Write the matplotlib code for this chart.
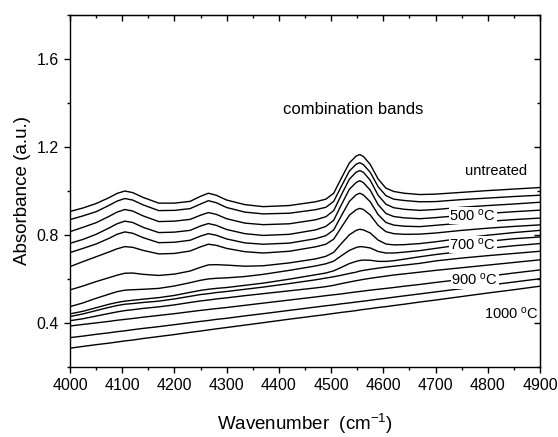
import matplotlib
matplotlib.use("Agg")
import matplotlib.pyplot as plt
from matplotlib.ticker import MultipleLocator

plt.rcParams['font.family'] = ['Liberation Sans', 'DejaVu Sans']
plt.rcParams['mathtext.fontset'] = 'custom'
plt.rcParams['mathtext.rm'] = 'Liberation Sans'
plt.rcParams['mathtext.it'] = 'Liberation Sans'

wavenumber = [4000, 4025, 4050, 4075, 4090, 4105, 4120, 4140, 4170,
              4200, 4230, 4250, 4265, 4280, 4300, 4335, 4370, 4420, 4470,
              4490, 4505, 4520, 4535, 4548, 4555, 4562, 4575, 4590, 4605, 4620, 4640, 4670,
              4700, 4750, 4800, 4850, 4900]

c01 = [.906, .922, .942, .969, .988, .999, .992, .970, .944,
       .944, .952, .975, .989, .980, .958, .937, .928, .933, .950,
       .962, .989, 1.059, 1.127, 1.158, 1.165, 1.156, 1.120, 1.054, 1.012, .997, .989, .983,
       .985, .993, 1.001, 1.008, 1.015]
c02 = [.869, .886, .905, .934, .953, .965, .958, .936, .910,
       .911, .919, .940, .955, .946, .924, .903, .895, .898, .914,
       .925, .952, 1.022, 1.090, 1.121, 1.128, 1.119, 1.084, 1.019, .978, .962, .956, .950,
       .951, .960, .967, .974, .980]
c03 = [.814, .834, .855, .884, .903, .915, .908, .886, .860,
       .862, .870, .889, .901, .893, .873, .853, .846, .850, .868,
       .882, .910, .983, 1.053, 1.085, 1.092, 1.084, 1.048, .980, .939, .923, .916, .911,
       .915, .925, .933, .940, .948]
c04 = [.761, .779, .802, .831, .850, .862, .856, .834, .810,
       .812, .820, .840, .851, .843, .824, .805, .797, .802, .822,
       .838, .866, .938, 1.007, 1.038, 1.046, 1.037, 1.003, .937, .897, .883, .877, .873,
       .878, .888, .897, .905, .912]
c05 = [.719, .738, .758, .784, .802, .813, .807, .787, .764,
       .766, .775, .794, .805, .798, .781, .763, .757, .762, .782,
       .796, .822, .888, .952, .982, .989, .981, .950, .892, .856, .844, .839, .837,
       .843, .853, .861, .869, .876]
c06 = [.655, .678, .700, .722, .736, .746, .743, .729, .713,
       .715, .726, .745, .757, .752, .738, .723, .717, .725, .745,
       .757, .780, .835, .889, .914, .920, .915, .890, .843, .814, .805, .802, .803,
       .808, .820, .830, .838, .845]
c07 = [.549, .567, .587, .605, .616, .625, .626, .620, .615,
       .621, .635, .652, .663, .664, .662, .657, .659, .672, .690,
       .702, .720, .761, .800, .820, .825, .822, .808, .776, .758, .754, .755, .760,
       .768, .784, .798, .810, .820]
c08 = [.473, .490, .511, .530, .541, .548, .550, .552, .556,
       .567, .582, .593, .599, .602, .604, .610, .620, .638, .658,
       .668, .680, .705, .729, .742, .746, .745, .740, .724, .717, .717, .721, .728,
       .738, .755, .770, .782, .790]
c09 = [.440, .452, .468, .484, .492, .498, .502, .507, .514,
       .524, .538, .547, .552, .556, .560, .570, .580, .598, .618,
       .626, .636, .652, .669, .679, .683, .685, .684, .679, .679, .682, .689, .700,
       .710, .724, .738, .750, .760]
c10 = [.428, .440, .455, .470, .478, .484, .487, .492, .498,
       .508, .520, .528, .532, .537, .542, .552, .562, .578, .595,
       .603, .609, .616, .624, .630, .635, .638, .643, .648, .653, .657, .662, .670,
       .681, .694, .705, .715, .725]
c11 = [.409, .418, .430, .442, .449, .455, .459, .465, .472,
       .481, .492, .499, .503, .508, .513, .523, .532, .545, .558,
       .564, .570, .578, .585, .591, .594, .597, .602, .607, .612, .617, .622, .630,
       .638, .650, .662, .674, .686]
c12 = [.385, .392, .399, .406, .411, .415, .419, .425, .433,
       .441, .450, .456, .460, .464, .469, .479, .489, .503, .517,
       .523, .527, .531, .536, .540, .542, .544, .548, .552, .556, .560, .566, .574,
       .583, .597, .611, .626, .640]
c13 = [.332, .339, .347, .354, .359, .363, .368, .374, .382,
       .391, .400, .406, .410, .415, .420, .431, .441, .456, .471,
       .477, .481, .486, .490, .494, .496, .498, .502, .507, .511, .516, .522, .531,
       .540, .555, .570, .585, .600]
c14 = [.284, .292, .300, .307, .312, .317, .321, .328, .337,
       .346, .356, .362, .367, .372, .378, .389, .400, .416, .431,
       .437, .442, .447, .451, .455, .458, .460, .464, .469, .473, .478, .484, .494,
       .503, .519, .535, .550, .566]

spectra = [c01, c02, c03, c04, c05, c06, c07, c08, c09, c10, c11, c12, c13, c14]

label_texts = ['untreated', '500 $^{\\mathrm{o}}$C', '700 $^{\\mathrm{o}}$C', '900 $^{\\mathrm{o}}$C', '1000 $^{\\mathrm{o}}$C']
label_x = [4816, 4771, 4771, 4775, 4846]
label_y = [1.092, 0.888, 0.755, 0.595, 0.442]

fig = plt.figure(figsize=(5.58, 4.37), dpi=100)
ax = fig.add_axes([0.1254, 0.161, 0.8423, 0.8047])

for s in spectra:
    ax.plot(wavenumber, s, color='black', lw=1.0, zorder=2, solid_joinstyle='round')

for t, x, y in zip(label_texts, label_x, label_y):
    boxed = t not in ('untreated',) and not t.startswith('1000')
    bb = dict(facecolor='white', edgecolor='none', pad=0.5) if boxed else None
    ax.text(x, y, t, ha='center', va='center', fontsize=10.5, bbox=bb, zorder=3)

ax.text(4543, 1.371, 'combination bands', ha='center', va='center', fontsize=12)

ax.set_xlim(4000, 4900)
ax.set_ylim(0.2, 1.8)
ax.xaxis.set_major_locator(MultipleLocator(100))
ax.xaxis.set_minor_locator(MultipleLocator(50))
ax.yaxis.set_minor_locator(MultipleLocator(0.2))
ax.set_yticks([0.4, 0.8, 1.2, 1.6])
ax.tick_params(which='both', direction='out', labelsize=11.5, width=1.0)
ax.tick_params(which='major', length=4.5)
ax.tick_params(which='minor', length=2.5)

secx = ax.secondary_xaxis('top')
secx.xaxis.set_major_locator(MultipleLocator(100))
secx.xaxis.set_minor_locator(MultipleLocator(50))
secx.tick_params(which='both', direction='in', labeltop=False, width=1.0)
secx.tick_params(which='major', length=4)
secx.tick_params(which='minor', length=2.5)
secy = ax.secondary_yaxis('right')
secy.yaxis.set_minor_locator(MultipleLocator(0.2))
secy.set_yticks([0.4, 0.8, 1.2, 1.6])
secy.tick_params(which='both', direction='in', labelright=False, width=1.0)
secy.tick_params(which='major', length=4)
secy.tick_params(which='minor', length=2.5)

for sp in ax.spines.values():
    sp.set_linewidth(1.0)

ax.set_xlabel('Wavenumber  (cm$^{-1}$)', fontsize=13.5, labelpad=14)
ax.set_ylabel('Absorbance (a.u.)', fontsize=13.5, labelpad=4)

fig.savefig('out.png', dpi=100)
